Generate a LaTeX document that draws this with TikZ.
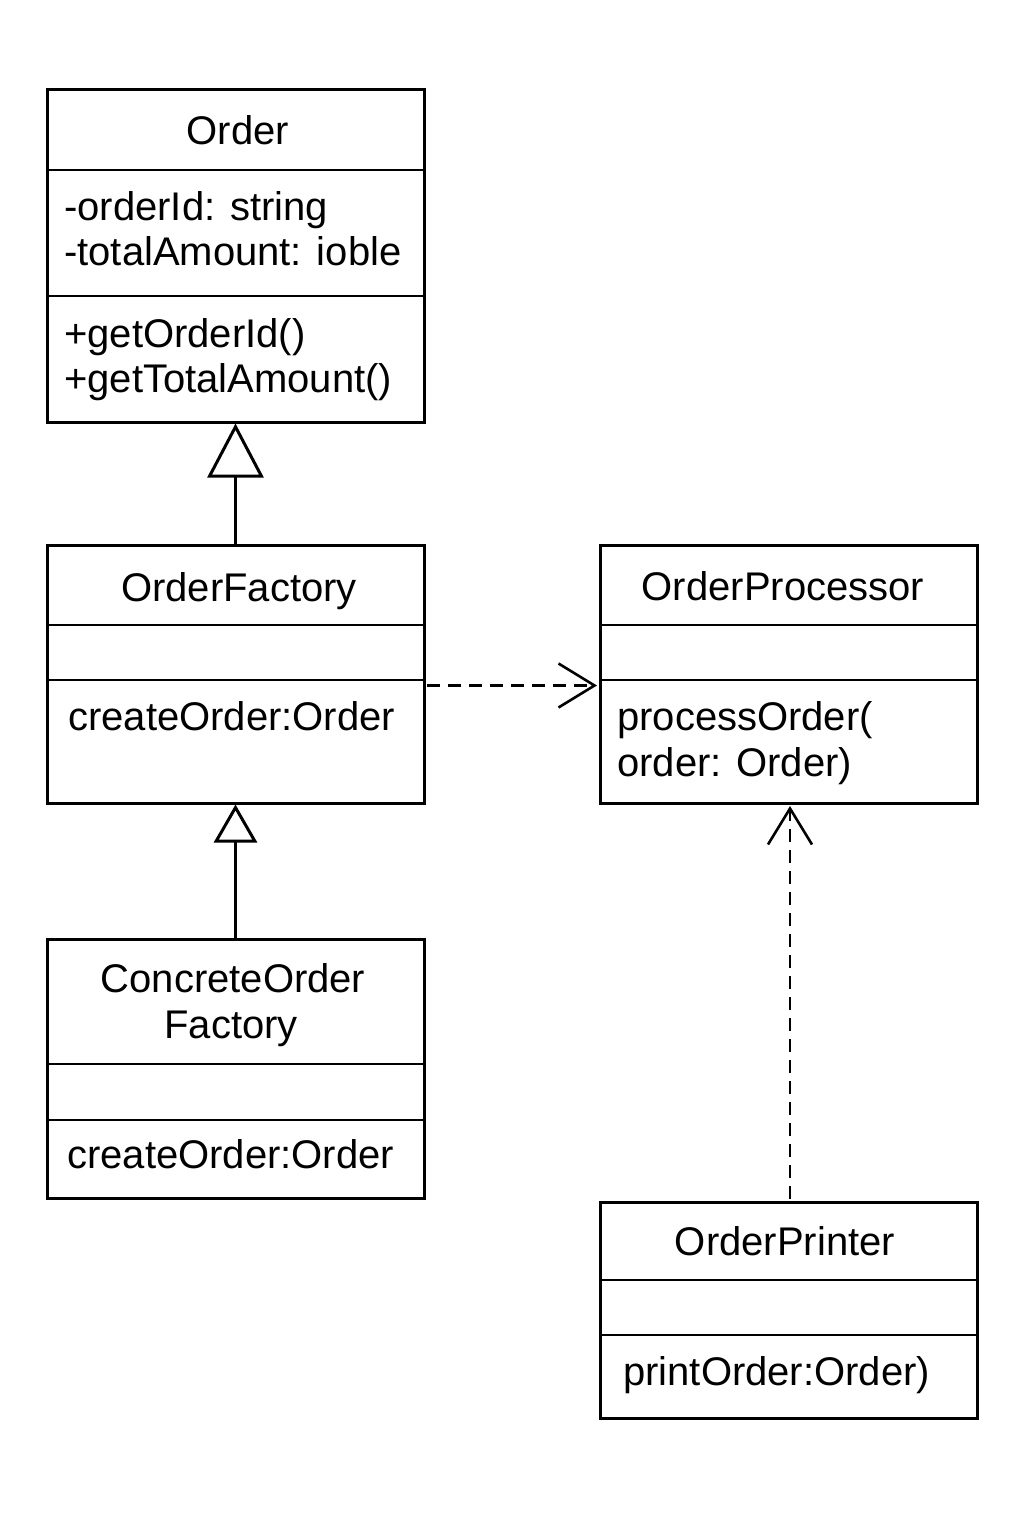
\documentclass[tikz,border=0pt]{standalone}
\usepackage{fontspec}
\setmainfont{Liberation Sans}
\usetikzlibrary{arrows.meta,calc}
\begin{document}
\begin{tikzpicture}[x=1pt,y=-1pt,
  cls/.style={draw=black, line width=3pt, rectangle, inner sep=0pt, fill=white},
  divider/.style={line width=2.6pt},
  txt/.style={inner sep=0pt, font=\fontsize{40}{46}\selectfont},
  gen/.style={line width=3pt, -{Triangle[open,length=#1]}},
  dep/.style={line width=2.6pt, dash pattern=on 13pt off 8pt, -{Straight Barb[length=36pt,width=44pt,line width=2.6pt]}}
]
\useasboundingbox (0,0) rectangle (1024,1536);
\fill[white] (0,0) rectangle (1024,1536);

% Order
\node[cls, minimum width=377pt, minimum height=332pt] (order) at (235.5,256) {};
\draw[divider] (47,170) -- (424,170);
\draw[divider] (47,296) -- (424,296);
\node[txt, anchor=base] (orderT) at (238,145) {Order};
\node[txt, anchor=base west] (orderA1) at (64,220) {-orderId: string};
\node[txt, anchor=base west] (orderA2) at (64,265) {-totalAmount: ioble};
\node[txt, anchor=base west] (orderM1) at (64,347) {+getOrderId()};
\node[txt, anchor=base west] (orderM2) at (64,392) {+getTotalAmount()};

% OrderFactory
\node[cls, minimum width=377pt, minimum height=258pt] (ofac) at (235.5,674) {};
\draw[divider] (47,625) -- (424,625);
\draw[divider] (47,680) -- (424,680);
\node[txt, anchor=base] (ofacT) at (239,601) {OrderFactory};
\node[txt, anchor=base west] (ofacM) at (68,730) {createOrder:Order};

% ConcreteOrderFactory
\node[cls, minimum width=377pt, minimum height=259pt] (cfac) at (235.5,1068.5) {};
\draw[divider] (47,1064) -- (424,1064);
\draw[divider] (47,1120) -- (424,1120);
\node[txt, anchor=base] (cfacT1) at (233,992) {ConcreteOrder};
\node[txt, anchor=base] (cfacT2) at (231,1038) {Factory};
\node[txt, anchor=base west] (cfacM) at (67,1168) {createOrder:Order};

% OrderProcessor
\node[cls, minimum width=377pt, minimum height=258pt] (proc) at (788.5,674) {};
\draw[divider] (600,625) -- (977,625);
\draw[divider] (600,680) -- (977,680);
\node[txt, anchor=base] (procT) at (783,600) {OrderProcessor};
\node[txt, anchor=base west] (procM1) at (617,730) {processOrder(};
\node[txt, anchor=base west] (procM2) at (617,776) {order: Order)};

% OrderPrinter
\node[cls, minimum width=377pt, minimum height=216pt] (prn) at (788.5,1310) {};
\draw[divider] (600,1280) -- (977,1280);
\draw[divider] (600,1335) -- (977,1335);
\node[txt, anchor=base] (prnT) at (785,1255) {OrderPrinter};
\node[txt, anchor=base west] (prnM) at (623,1385) {printOrder:Order)};

% connectors
\draw[gen=54pt, -{Triangle[open,length=54pt,width=56pt,line width=3pt]}] (ofac.north) -- (order.south);
\draw[line width=3pt, -{Triangle[open,length=38pt,width=43pt,line width=3pt]}] (cfac.north) -- (ofac.south);
\draw[dep] ($(ofac.north east)+(1.5,142)$) -- ($(proc.north west)+(-1.5,142)$);
\draw[dep] ($(prn.north)+(1.5,-1.5)$) -- ($(proc.south)+(1.5,1.5)$);
\end{tikzpicture}
\end{document}
